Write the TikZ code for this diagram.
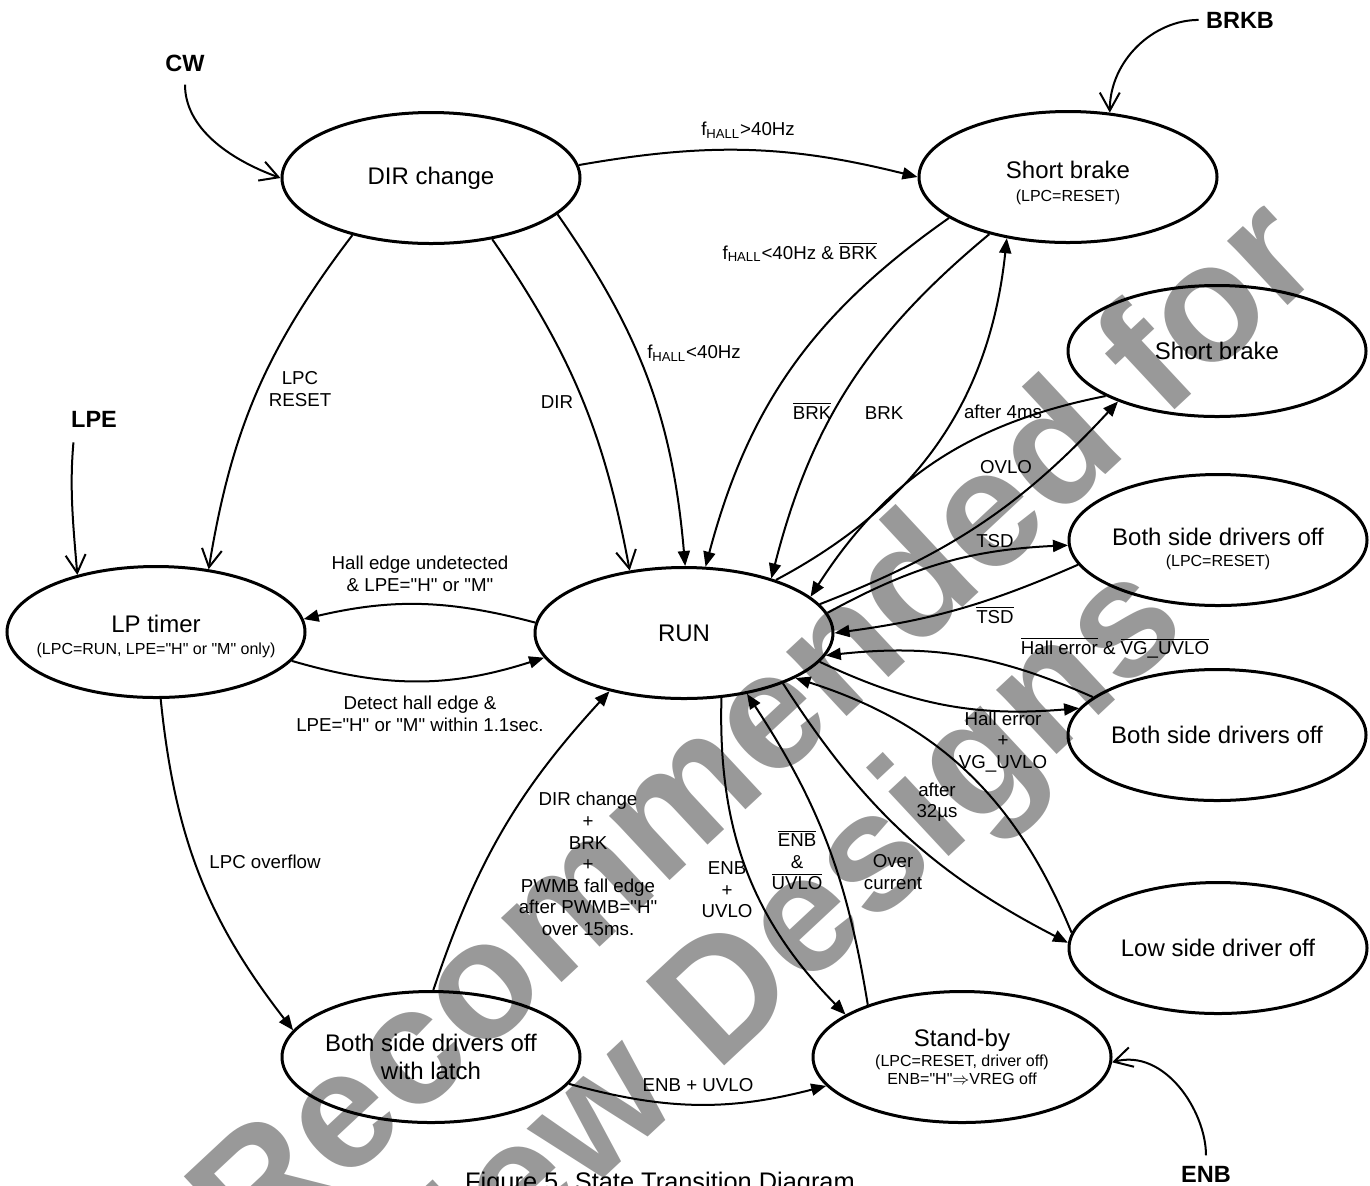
\documentclass[tikz,border=0pt]{standalone}
\usepackage{fontspec}
\setmainfont{Liberation Sans}[Ligatures=TeXOff]
\usetikzlibrary{shapes.geometric,arrows.meta}
\definecolor{wmark}{RGB}{153,153,153}
\newcommand{\ovl}[1]{$\overline{\mbox{#1}}$}
\newcommand{\subtxt}[1]{{\fontsize{8}{10}\selectfont #1}}

\begin{document}
\begin{tikzpicture}[x=0.5pt,y=-0.5pt]
\tikzstyle{st}=[draw, ellipse, line width=1.5pt, minimum width=149pt, minimum height=65.5pt, inner xsep=-40pt, inner ysep=0pt, align=center, font=\fontsize{12}{14}\selectfont];
\tikzstyle{lbl}=[align=center, inner sep=0pt, font=\fontsize{9.35}{10.8}\selectfont];
\tikzstyle{inp}=[anchor=base, inner sep=0pt, font=\bfseries\fontsize{11.75}{14}\selectfont];
\tikzstyle{tr}=[line width=1pt, -{Triangle[length=7.5pt,width=6pt]}];
\tikzstyle{trv}=[line width=1pt, -{Straight Barb[length=9pt,width=10pt]}];

\useasboundingbox (0,0) rectangle (1370,1185);

% watermark
\node[text=wmark, rotate=43, font=\bfseries\fontsize{83.5}{90}\selectfont] (wm1) at (750,725) {Recommended for};
\node[text=wmark, rotate=43, font=\bfseries\fontsize{83.5}{90}\selectfont] (wm2) at (782,953) {New Designs};

% states
\node[st] (dir) at (431,178) {DIR change};
\node[st] (sbrk) at (1068,177) {\rule{0pt}{14.3pt}Short brake\\[-2.5pt]\subtxt{(LPC=RESET)}};
\node[st] (sbrk2) at (1217,351) {Short brake};
\node[st] (lpt) at (156,632) {\rule{0pt}{13.3pt}LP timer\\[-3pt]\subtxt{(LPC=RUN, LPE="H" or "M" only)}};
\node[st] (run) at (684,633) {RUN};
\node[st] (bsd1) at (1218,540) {\rule{0pt}{17.3pt}Both side drivers off\\[-3.5pt]\subtxt{(LPC=RESET)}};
\node[st] (bsd2) at (1217,735) {Both side drivers off};
\node[st] (lowoff) at (1218,948) {Low side driver off};
\node[st] (stby) at (962,1057) {Stand-by\\[-4pt]\subtxt{(LPC=RESET, driver off)}\\[-5pt]\subtxt{ENB="H"$\Rightarrow$VREG off}};
\node[st] (latch) at (431,1057) {Both side drivers off\\with latch};

% inputs
\node[inp] (cw) at (185,71) {CW};
\node[inp] (lpe) at (94,427) {LPE};
\node[inp] (brkb) at (1240,28) {BRKB};
\node[inp] (enb) at (1206,1182) {ENB};

\draw[trv, shorten <=6.5pt] (cw.south) to[out=-90,in=160] (dir.west);
\draw[trv, shorten <=7.5pt] ([xshift=2pt]lpe.south west) to[out=-95,in=95] (lpt.144);
\draw[trv, shorten <=3.5pt] (brkb.west) to[out=180,in=90] (sbrk.57);
\draw[trv, shorten <=5pt] (enb.north) to[out=90,in=15] (stby.-2);

% transitions
\draw[tr] (dir.5) to[bend left=12] (sbrk.180);
\draw[tr] (sbrk.199) to[bend right=20] (run.72);
\draw[tr] (sbrk.216) to[bend right=18] (run.32);
\draw[tr] (run.30) to[bend right=28] (sbrk.225);
\draw[trv] (dir.216) to[bend right=14] (lpt.50);
\draw[trv] (dir.-45) to[bend left=12] (run.131);
\draw[tr] (dir.-16) to[bend left=15] (run.89);
\draw[tr] (lpt.-12) to[bend right=17] (run.190);
\draw[tr] (run.176) to[bend right=14] (lpt.5);
\draw[tr] (lpt.-86) to[bend right=16] (latch.169);
\draw[tr] (latch.88) to[bend left=12] (run.218);
\draw[tr] (latch.-11) to[bend right=15] (stby.192);
\draw[tr] (run.-60) to[bend right=23] (stby.160);
\draw[tr] (stby.151) to[bend right=12] (run.-44);
\draw[tr] (run.-27) to[bend right=15] (lowoff.178);
\draw[tr] (lowoff.174) to[bend right=25] (run.-22);
\draw[tr] (run.-12) to[bend right=15] (bsd2.169);
\draw[tr] (bsd2.163) to[bend right=15] (run.-9);
\draw[tr] (run.8) to[bend left=13] (bsd1.182);
\draw[tr] (bsd1.190) to[bend left=8] (run.0);
\draw[tr] (sbrk2.202) to[bend right=23] (run.16);
\draw[tr] (run.12) to[bend right=13] (sbrk2.207);

% labels
\node[lbl] (lfgt) at (748,130) {f\textsubscript{HALL}>40Hz};
\node[lbl] (lflt) at (800,252) {f\textsubscript{HALL}<40Hz \& \ovl{BRK}};
\node[lbl] (lflt2) at (694,353) {f\textsubscript{HALL}<40Hz};
\node[lbl] (ldir) at (557,402) {DIR};
\node[lbl] (lreset) at (300,389) {LPC\\RESET};
\node[lbl] (lnbrk) at (812,411) {\ovl{BRK}};
\node[lbl] (lbrk) at (884,413) {BRK};
\node[lbl] (l4ms) at (1003,412) {after 4ms};
\node[lbl] (lovlo) at (1006,467) {OVLO};
\node[lbl] (ltsd) at (995,541) {TSD};
\node[lbl] (lntsd) at (995,615) {\ovl{TSD}};
\node[lbl] (lnhall) at (1115,648) {\ovl{Hall error} \& \ovl{VG\_UVLO}};
\node[lbl] (lhall) at (1003,742) {Hall error\\+\\VG\_UVLO};
\node[lbl] (l32) at (937,802) {after\\32µs};
\node[lbl] (locur) at (893,872) {Over\\current};
\node[lbl] (lnenb) at (797,860) {\ovl{ENB}\\\&\\\ovl{UVLO}};
\node[lbl] (lenb) at (727,890) {ENB\\+\\UVLO};
\node[lbl] (lpwmb) at (588,864) {DIR change\\+\\BRK\\+\\PWMB fall edge\\after PWMB="H"\\over 15ms.};
\node[lbl] (lenb2) at (698,1085) {ENB + UVLO};
\node[lbl] (lhud) at (420,574) {Hall edge undetected\\\& LPE="H" or "M"};
\node[lbl] (ldet) at (420,714) {Detect hall edge \&\\LPE="H" or "M" within 1.1sec.};
\node[lbl] (lovf) at (265,862) {LPC overflow};

\node[anchor=base, inner sep=0pt, font=\fontsize{12.7}{15}\selectfont] (cap) at (660,1190) {Figure 5. State Transition Diagram};
\end{tikzpicture}
\end{document}
